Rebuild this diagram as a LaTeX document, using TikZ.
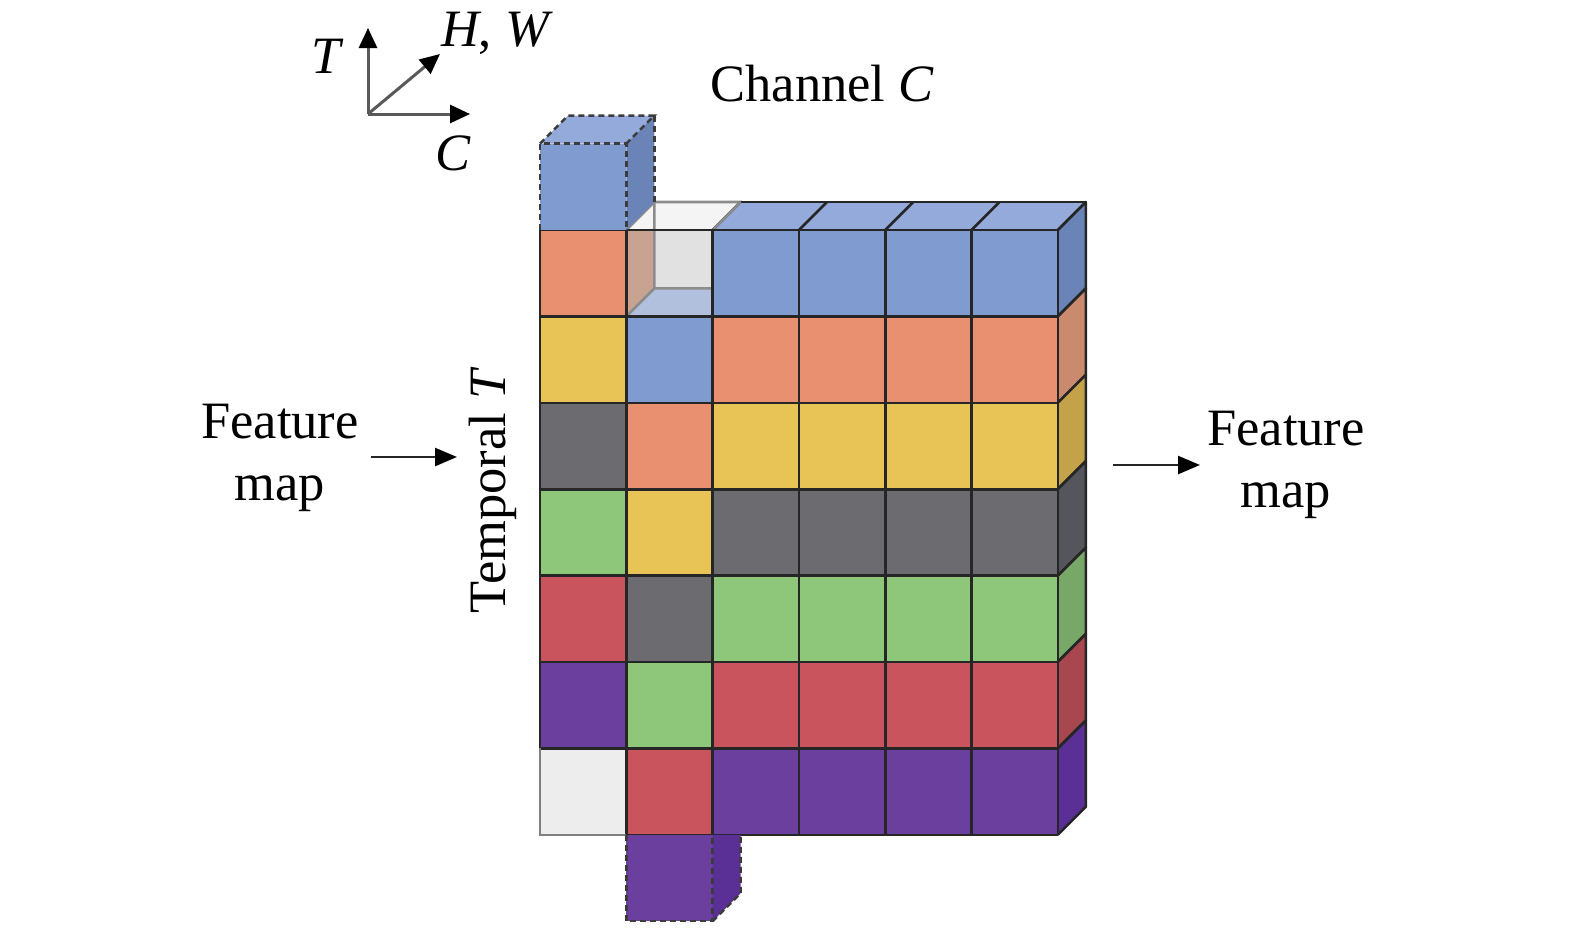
\documentclass[tikz,border=0pt]{standalone}
\usepackage{fontspec}
\setmainfont{Liberation Serif}
\usetikzlibrary{arrows.meta}
\definecolor{cblue}{HTML}{7F9BD0}
\definecolor{corange}{HTML}{E8906F}
\definecolor{cyellow}{HTML}{E8C356}
\definecolor{cgray}{HTML}{6B6B70}
\definecolor{cgreen}{HTML}{8EC67A}
\definecolor{cred}{HTML}{C9545D}
\definecolor{cpurple}{HTML}{6A3F9E}
\definecolor{cwhite}{HTML}{EDEDED}
\definecolor{sblue}{HTML}{6A84B8}
\definecolor{sorange}{HTML}{C98A6E}
\definecolor{syellow}{HTML}{C3A24A}
\definecolor{sgray}{HTML}{55555C}
\definecolor{sgreen}{HTML}{77A868}
\definecolor{sred}{HTML}{A8474F}
\definecolor{spurple}{HTML}{5A2F96}
\definecolor{tblue}{HTML}{93AADA}
\definecolor{wall}{HTML}{C8A392}
\definecolor{edge}{HTML}{262626}
\begin{document}
\begin{tikzpicture}[x=1pt,y=-1pt,
  txt/.style={font=\fontsize{52.5}{62}\selectfont, inner sep=0pt, align=center},
  grid/.style={draw=edge, line width=2.6pt, line join=round},
  hollow/.style={draw=black!45, line width=2.6pt},
  dashedge/.style={draw=edge!90, line width=2.4pt, dash pattern=on 6pt off 4pt},
  axis/.style={draw=black!65, line width=3pt, -{Triangle[length=20pt,width=18pt,color=black]}},
  flow/.style={draw=black!85, line width=2.5pt, -{Triangle[length=22pt,width=18pt,color=black]}}]
\useasboundingbox (0,0) rectangle (1575,935);
\def\W{86.3}\def\H{86.4}\def\D{28}
% hollow white cell (col 1, row 0): inside first
\fill[cwhite!95!black] ({540+\W+\D},{230-\D}) rectangle ++(\W,\H);
\fill[wall] ({540+\W},230) -- ++(\D,-\D) -- ++(0,\H) -- ++(-\D,\D) -- cycle;
\fill[cblue!55!cwhite] ({540+\W},{230+\H}) -- ++(\D,-\D) -- ++(\W,0) -- ++(-\D,\D) -- cycle;
\fill[cwhite!60!white] ({540+\W},230) -- ++(\D,-\D) -- ++(\W,0) -- ++(-\D,\D) -- cycle;
\draw[hollow] ({540+\W+\D},{230-\D}) -- ++(\W,0) -- ++(0,\H) -- ++(-\W,0) -- cycle
  ({540+\W+\D},{230-\D+\H}) -- ++(-\D,\D) ({540+2*\W+\D},{230-\D}) -- ++(-\D,\D)
  ({540+\W},230) -- ++(\D,-\D);
% colored cells
\foreach \r/\cl in {0/cblue,1/corange,2/cyellow,3/cgray,4/cgreen,5/cred,6/cpurple}{
  \foreach \c in {2,3,4,5}{
    \fill[\cl] ({540+\c*\W},{230+\r*\H}) rectangle ++(\W,\H);
  }
}
\foreach \r/\cl in {1/cblue,2/corange,3/cyellow,4/cgray,5/cgreen,6/cred}{
  \fill[\cl] ({540+\W},{230+\r*\H}) rectangle ++(\W,\H);
}
\foreach \r/\cl in {0/corange,1/cyellow,2/cgray,3/cgreen,4/cred,5/cpurple,6/cwhite}{
  \fill[\cl] (540,{230+\r*\H}) rectangle ++(\W,\H);
}
% right side faces
\foreach \r/\cl in {0/sblue,1/sorange,2/syellow,3/sgray,4/sgreen,5/sred,6/spurple}{
  \fill[\cl] ({540+6*\W},{230+\r*\H}) -- ++(\D,-\D) -- ++(0,\H) -- ++(-\D,\D) -- cycle;
  \draw[grid] ({540+6*\W},{230+\r*\H}) -- ++(\D,-\D) -- ++(0,\H) -- ++(-\D,\D);
}
% top faces of blue row
\fill[tblue] ({540+2*\W},230) -- ++(\D,-\D) -- ({540+6*\W+\D},{230-\D}) -- ({540+6*\W},230) -- cycle;
\foreach \c in {2,3,4,5,6}{
  \draw[grid] ({540+\c*\W},230) -- ++(\D,-\D);
}
\draw[grid] ({540+2*\W+\D},{230-\D}) -- ({540+6*\W+\D},{230-\D});
\draw[hollow] ({540+2*\W},230) -- ++(\D,-\D);
% grid lines of the front
\foreach \r in {0,...,7}{
  \draw[grid] (540,{230+\r*\H}) -- ({540+6*\W},{230+\r*\H});
}
\foreach \c in {0,...,6}{
  \draw[grid] ({540+\c*\W},230) -- ({540+\c*\W},{230+7*\H});
}
\draw[draw=black!50, line width=2.6pt] (540,{230+6*\H}) -- (540,{230+7*\H}) -- ({540+\W},{230+7*\H});
% dashed top cube
\fill[cblue] (540,{230-\H}) rectangle ++(\W,\H);
\fill[tblue] (540,{230-\H}) -- ++(\D,-\D) -- ++(\W,0) -- ++(-\D,\D) -- cycle;
\fill[sblue] ({540+\W},{230-\H}) -- ++(\D,-\D) -- ++(0,\H) -- ++(-\D,\D) -- cycle;
\draw[dashedge] (540,230) -- ++(0,-\H) -- ++(\W,0) -- ++(0,\H);
\draw[dashedge] (540,{230-\H}) -- ++(\D,-\D) -- ++(\W,0) -- ++(-\D,\D);
\draw[dashedge] ({540+\W+\D},{230-\H-\D}) -- ++(0,\H);
% dashed bottom cube
\fill[cpurple] ({540+\W},{230+7*\H}) rectangle ++(\W,\H);
\fill[spurple] ({540+2*\W},{230+7*\H}) -- ++(\D,0) -- ++(0,{\H-\D}) -- ++(-\D,\D) -- cycle;
\draw[dashedge] ({540+\W},{230+7*\H}) -- ++(0,\H) -- ++(\W,0) -- ++(0,-\H);
\draw[dashedge] ({540+2*\W},{230+8*\H}) -- ++(\D,-\D) -- ++(0,{-\H+\D});
% axes
\coordinate (O) at (368,114);
\coordinate (Ta) at (368,28);
\coordinate (Ca) at (470,114);
\coordinate (Ha) at (440,54);
\draw[axis] (O) -- (Ta);
\draw[axis] (O) -- (Ca);
\draw[axis] (O) -- (Ha);
\node[txt] (lT) at (326,56) {\itshape T};
\node[txt] (lH) at (495,33) {\itshape H\upshape, \itshape W};
\node[txt] (lC) at (453,153) {\itshape C};
% labels
\node[txt] (chan) at (822,84) {Channel \itshape C};
\node[txt, rotate=90] (temp) at (493,492) {Temporal \itshape T};
\node[txt] (fml) at (280,458) {Feature\\map};
\node[txt] (fmr) at (1286,465) {Feature\\map};
\coordinate (la) at (371,457);
\coordinate (lb) at (457,457);
\coordinate (ra) at (1113,465);
\coordinate (rb) at (1200,465);
\draw[flow] (la) -- (lb);
\draw[flow] (ra) -- (rb);
\end{tikzpicture}
\end{document}
